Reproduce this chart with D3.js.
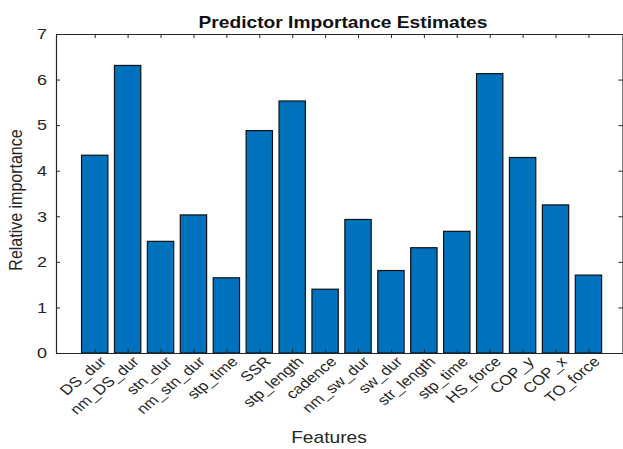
<!DOCTYPE html>
<html>
<head>
<meta charset="utf-8">
<script src="https://cdn.jsdelivr.net/npm/d3@7"></script>
<style>
  body { margin: 0; background: #fff; }
  svg { font-family: "Liberation Sans", Arial, sans-serif; }
  .axis path, .axis line { stroke: #262626; }
  .axis text { fill: #262626; }
  .bar { fill: #0072bd; stroke: #111; stroke-width: 1.2; }
</style>
</head>
<body>
<div id="chart-container"></div>
<script>
const features = [
  'DS_dur', 'nm_DS_dur', 'stn_dur', 'nm_stn_dur', 'stp_time', 'SSR',
  'stp_length', 'cadence', 'nm_sw_dur', 'sw_dur', 'str_length', 'stp_time',
  'HS_force', 'COP_y', 'COP_x', 'TO_force'
];
const importance = [
  4.34, 6.31, 2.45, 3.03, 1.65, 4.88, 5.53, 1.40,
  2.93, 1.81, 2.31, 2.67, 6.13, 4.29, 3.25, 1.71
];
const yTicks = [0, 1, 2, 3, 4, 5, 6, 7];

const width = 623,
  height = 449;
const box = {left: 56, right: 623, top: 34, bottom: 353};
// the source picture is stretched sideways, so text is widened to match
const stretch = 1.2;

const positions = features.map((_, i) => i + 1);

// bar centres sit at 1..16, the axes limits reach a bit past both ends
const xScale = d3.scaleLinear()
  .domain([-0.176, 17.05])
  .range([box.left, box.right]);
const yScale = d3.scaleLinear()
  .domain([0, 7])
  .range([box.bottom, box.top]);
const step = xScale(2) - xScale(1);
const barW = step * 0.8;

const svg = d3.select('div#chart-container')
  .append('svg')
  .attr('width', width)
  .attr('height', height);

// bars
svg.append('g')
  .selectAll('rect')
  .data(importance)
  .join('rect')
  .attr('class', 'bar')
  .attr('x', (_, i) => xScale(positions[i]) - barW / 2)
  .attr('y', d => yScale(d))
  .attr('width', barW)
  .attr('height', d => yScale(0) - yScale(d));

// bottom axis, ticks pointing inward
const xAxis = svg.append('g')
  .attr('class', 'x axis')
  .attr('transform', `translate(0, ${box.bottom})`)
  .call(d3.axisBottom(xScale).tickValues(positions).tickSize(-4).tickSizeOuter(0)
    .tickFormat((_, i) => features[i]));
xAxis.selectAll('text')
  .attr('font-size', 14)
  .attr('text-anchor', 'end')
  .attr('transform', `translate(3, 2) scale(${stretch}, 1) rotate(-45)`)
  .attr('x', 0)
  .attr('y', 0)
  .attr('dy', '0.75em');

// top axis (box)
svg.append('g')
  .attr('class', 'axis')
  .attr('transform', `translate(0, ${box.top})`)
  .call(d3.axisTop(xScale).tickValues(positions).tickSize(-4).tickSizeOuter(0).tickFormat(''));

// left axis
const yAxis = svg.append('g')
  .attr('class', 'y axis')
  .attr('transform', `translate(${box.left}, 0)`)
  .call(d3.axisLeft(yScale).tickValues(yTicks).tickSize(-4).tickSizeOuter(0)
    .tickFormat(d3.format('d')));
yAxis.selectAll('text')
  .attr('font-size', 15)
  .attr('x', 0)
  .attr('transform', `translate(-9, 0) scale(${stretch}, 1)`);

// right axis (box)
svg.append('g')
  .attr('class', 'axis')
  .attr('transform', `translate(${box.right - 0.5}, 0)`)
  .call(d3.axisRight(yScale).tickValues(yTicks).tickSize(-4).tickSizeOuter(0).tickFormat(''));

svg.selectAll('.axis path').attr('stroke-width', 1.2);

// title and axis labels
svg.append('text')
  .attr('transform', `translate(343, 28) scale(${stretch}, 1)`)
  .attr('text-anchor', 'middle')
  .attr('font-size', 16)
  .attr('font-weight', 'bold')
  .attr('fill', '#111')
  .text('Predictor Importance Estimates');

svg.append('text')
  .attr('transform', `translate(329, 443) scale(${stretch}, 1)`)
  .attr('text-anchor', 'middle')
  .attr('font-size', 16)
  .attr('fill', '#262626')
  .text('Features');

svg.append('text')
  .attr('transform', `translate(22, 200) scale(${stretch}, 1) rotate(-90)`)
  .attr('text-anchor', 'middle')
  .attr('font-size', 16)
  .attr('fill', '#262626')
  .text('Relative importance');
</script>
</body>
</html>
